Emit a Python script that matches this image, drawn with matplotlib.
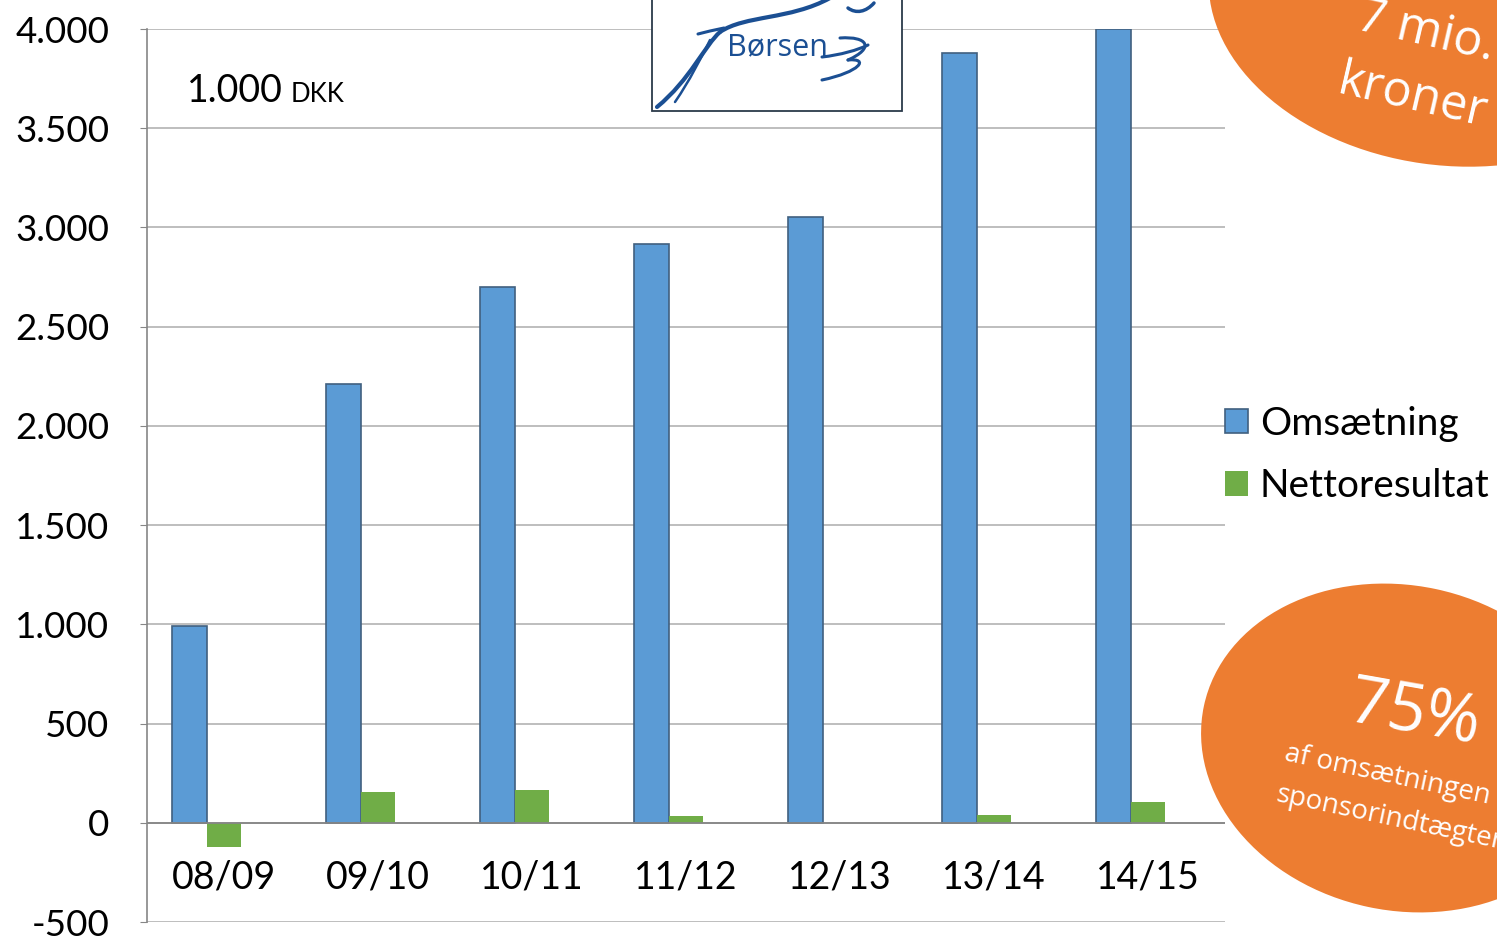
import matplotlib
matplotlib.use('Agg')
import matplotlib.pyplot as plt
import numpy as np
from matplotlib.patches import Ellipse, Rectangle, PathPatch
from matplotlib.path import Path

# data (1.000 DKK)
seasons = ['08/09', '09/10', '10/11', '11/12', '12/13', '13/14', '14/15']
omsaetning = [990, 2210, 2700, 2915, 3055, 3880, 4000]
nettoresultat = [-120, 155, 165, 35, 0, 40, 105]

if __name__ == '__main__':
    plt.rcParams['font.family'] = ['Lato', 'DejaVu Sans']
    fig = plt.figure(figsize=(14.97, 9.39), dpi=100)
    ax = fig.add_axes([0.0982, 0.0181, 0.7201, 0.951])
    px = fig.dpi_scale_trans  # inches; pixel -> x/100, (939-y)/100

    x = np.arange(len(seasons))
    width = 0.226
    # excel-style: a third (empty) series slot sits to the right of the green bar
    ax.bar(x - width, omsaetning, width, color='#5B9BD5', edgecolor='#41607f',
           linewidth=1.2, label='Omsætning', zorder=3)
    ax.bar(x, nettoresultat, width, color='#70AD47', edgecolor='none',
           label='Nettoresultat', zorder=3)
    ax.axhline(0, color='#868686', lw=1.3, zorder=4)

    ax.set_xlim(-0.5, len(seasons) - 0.5)
    ax.set_ylim(-500, 4000)
    ax.set_yticks(np.arange(-500, 4001, 500))
    ax.set_yticklabels([f'{v:,}'.replace(',', '.') for v in range(-500, 4001, 500)])
    ax.yaxis.grid(True, color='#b3b3b3', lw=1.2, zorder=0)
    ax.set_xticks([])
    for s in ['top', 'right', 'bottom']:
        ax.spines[s].set_visible(False)
    ax.spines['left'].set_color('#868686')
    ax.spines['left'].set_linewidth(1.2)
    ax.tick_params(axis='y', labelsize=26.5, length=5, color='#868686', pad=22)
    for i, s in enumerate(seasons):
        ax.text(i, -278, s, ha='center', va='center', fontsize=27)

    ax.legend(loc='center left', bbox_to_anchor=(1.0, 0.523), frameon=False, fontsize=28,
              handlelength=0.6, handleheight=0.6, handletextpad=0.3, borderaxespad=0,
              labelspacing=0.68, borderpad=0)

    fig.text(1.87, (939 - 91) / 100, '1.000', transform=px, fontsize=27, va='center')
    fig.text(2.91, (939 - 94) / 100, 'DKK', transform=px, fontsize=18.5, va='center')

    # logo box
    fig.patches.append(Rectangle((6.52, (939 - 111) / 100), 2.50, 1.4, transform=px,
                                 facecolor='white', edgecolor='#2b3a4a', lw=1.3, zorder=5))
    logo_blue = '#1b4f93'
    fig.text(7.78, (939 - 47) / 100, 'Børsen', transform=px, fontsize=22, color=logo_blue,
             ha='center', va='center', family='Open Sans', zorder=6)
    C4 = [Path.MOVETO, Path.CURVE4, Path.CURVE4, Path.CURVE4]
    strokes = [
        # main swoosh
        ([(657, 107), (690, 80), (705, 45), (720, 32)], 3.0),
        ([(720, 32), (745, 15), (790, 20), (830, -2)], 3.0),
        # parallel leg
        ([(675, 102), (690, 80), (700, 60), (710, 40)], 1.8),
        # small horizontal dash
        ([(698, 34), (705, 32), (715, 30), (724, 28)], 2.2),
        # top-right wave
        ([(848, 8), (856, 14), (866, 12), (874, 3)], 2.5),
        # curl after the name
        ([(822, 57), (840, 55), (858, 50), (868, 45)], 2.2),
        ([(840, 38), (868, 36), (875, 48), (848, 60)], 2.2),
        ([(848, 60), (870, 58), (860, 72), (822, 80)], 2.2),
    ]
    for verts, lw in strokes:
        path = Path([(a / 100, (939 - b) / 100) for a, b in verts], C4)
        fig.patches.append(PathPatch(path, transform=px, facecolor='none',
                                     edgecolor=logo_blue, lw=lw, capstyle='round', zorder=6))

    # orange bubbles
    orange = '#ED7D31'
    fig.patches.append(Ellipse((14.45, 9.39), 4.75, 3.3, angle=-8, transform=px,
                               facecolor=orange, edgecolor='none', zorder=5))
    fig.text(14.26, (939 - 32) / 100, '7 mio.', transform=px, fontsize=35, color='white',
             rotation=-13, ha='center', va='center', family='Open Sans', zorder=6)
    fig.text(14.13, (939 - 98) / 100, 'kroner', transform=px, fontsize=35, color='white',
             rotation=-13, ha='center', va='center', family='Open Sans', zorder=6)

    fig.patches.append(Ellipse((14.02, (939 - 748) / 100), 4.05, 3.25, angle=-12, transform=px,
                               facecolor=orange, edgecolor='none', zorder=5))
    fig.text(14.15, (939 - 714) / 100, '75%', transform=px, fontsize=48, color='white',
             rotation=-10, ha='center', va='center', family='Open Sans', zorder=6)
    fig.text(13.87, (939 - 775) / 100, 'af omsætningen', transform=px, fontsize=20, color='white',
             rotation=-12, ha='center', va='center', family='Open Sans', zorder=6)
    fig.text(13.90, (939 - 818) / 100, 'sponsorindtægter', transform=px, fontsize=20, color='white',
             rotation=-12, ha='center', va='center', family='Open Sans', zorder=6)

    fig.savefig('out.png', dpi=100)
